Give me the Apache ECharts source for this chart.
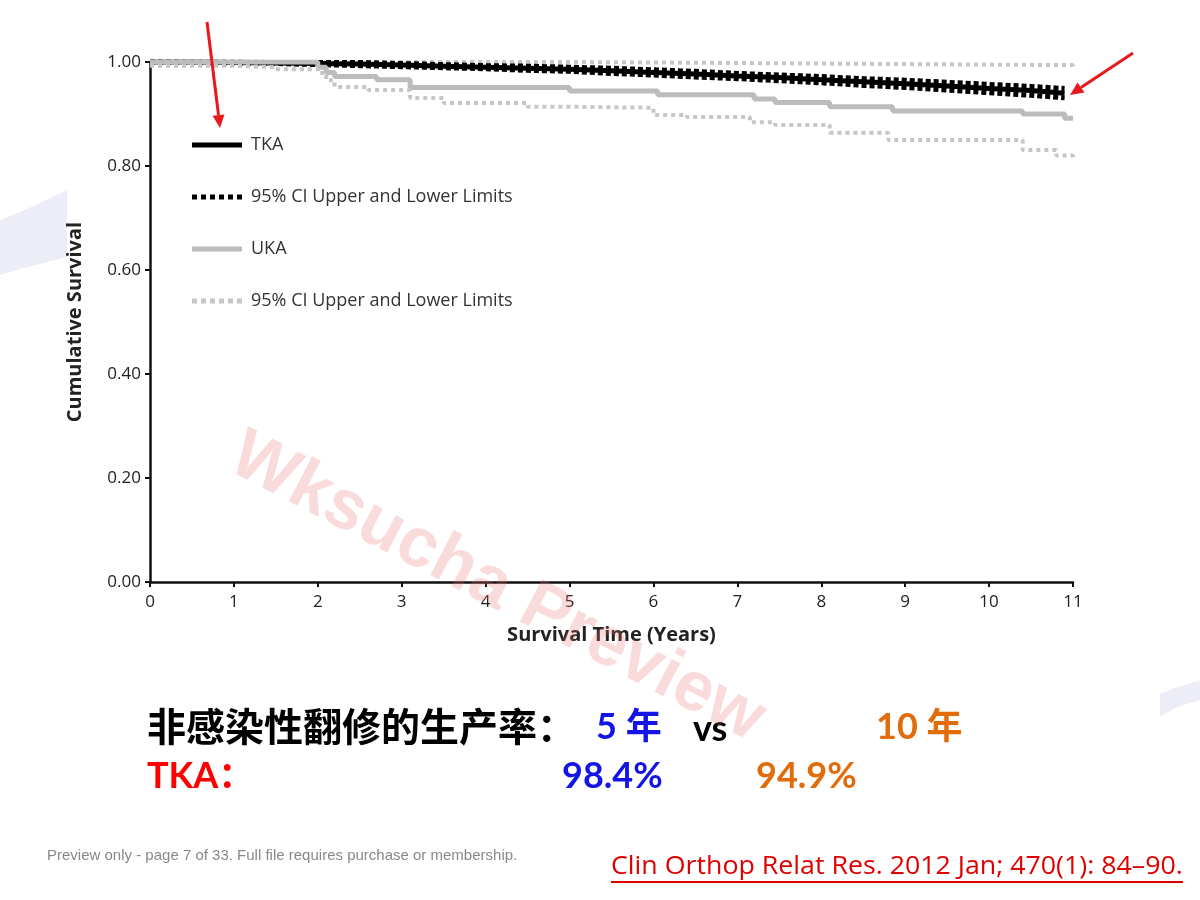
<!DOCTYPE html>
<html>
<head>
<meta charset="utf-8">
<script src="https://cdn.jsdelivr.net/npm/echarts@6/dist/echarts.min.js"></script>
<style>
html,body{margin:0;padding:0;background:#fff;}
#chart{width:1200px;height:900px;}
</style>
</head>
<body>
<div id="chart"></div>
<script>
// ---- data ----
var xTicks = [0,1,2,3,4,5,6,7,8,9,10,11];
var yTicks = [0,0.2,0.4,0.6,0.8,1.0];

var tkaTimes = [0,0.5,1,1.5,2,2.5,3,3.5,4,4.5,5,5.5,6,6.5,7,7.5,8,8.5,9,9.5,10,10.5,10.9];
var tkaSurv  = [1.000,1.000,0.999,0.998,0.997,0.996,0.994,0.992,0.990,0.988,0.986,0.983,0.980,0.977,0.973,0.970,0.966,0.962,0.958,0.954,0.949,0.945,0.940];
var tkaUpper = [1.000,1.000,1.000,0.999,0.999,0.999,0.997,0.995,0.993,0.992,0.990,0.988,0.985,0.982,0.978,0.975,0.972,0.968,0.965,0.961,0.957,0.953,0.949];
var tkaLower = [1.000,0.999,0.998,0.997,0.995,0.993,0.991,0.989,0.987,0.984,0.982,0.978,0.975,0.971,0.968,0.964,0.960,0.955,0.951,0.946,0.941,0.936,0.931];

var ukaTimes = [0,2.0,2.1,2.2,2.7,3.1,5.0,6.05,7.2,7.45,8.1,8.85,10.4,10.9,11.0];
var ukaSurv  = [1.000,0.990,0.980,0.972,0.966,0.951,0.944,0.937,0.929,0.922,0.914,0.906,0.900,0.892,0.892];

var ukaLowTimes = [0,1.0,1.5,2.0,2.1,2.2,2.6,3.1,3.5,4.5,5.0,6.0,6.4,7.15,7.45,8.1,8.8,10.4,10.8,11.0];
var ukaLow      = [0.993,0.990,0.986,0.979,0.965,0.952,0.946,0.931,0.921,0.914,0.912,0.898,0.894,0.884,0.879,0.864,0.850,0.831,0.820,0.815];

var ukaUpTimes = [0,5.0,7.0,9.0,11.0];
var ukaUp      = [1.000,0.998,0.996,0.994,0.992];

var legendNames = ['TKA','95% CI Upper and Lower Limits','UKA','95% CI Upper and Lower Limits'];

function pairs(xs, ys){ return xs.map(function(x,i){ return [x, ys[i]]; }); }

var chart = echarts.init(document.getElementById('chart'), null, {renderer:'canvas'});

var legendMap = {'TKA':legendNames[0],'TKA CI':legendNames[1],'UKA':legendNames[2],'UKA CI':legendNames[3]};
var dotsIcon = 'path://M0,0h5v5h-5zM9,0h5v5h-5zM18,0h5v5h-5zM27,0h5v5h-5zM36,0h5v5h-5zM45,0h5v5h-5z';

var BLACK = '#000000', GRAY = '#bcbcbc', GRAYDOT = '#c6c6c6';

var option = {
  backgroundColor:'#ffffff',
  animation:false,
  grid:{left:150, right:127, top:62, bottom:318, containLabel:false},
  legend:{
    orient:'vertical', left:187, top:131,
    itemWidth:50, itemHeight:5, itemGap:34,
    itemStyle:{borderWidth:0},
    data:[
      {name:'TKA', icon:'rect'},
      {name:'TKA CI', icon:dotsIcon},
      {name:'UKA', icon:'rect'},
      {name:'UKA CI', icon:dotsIcon}
    ],
    formatter:function(n){ return legendMap[n]; },
    textStyle:{fontFamily:'Open Sans', fontSize:18, color:'#333', padding:[0,0,0,4]}
  },
  xAxis:{
    type:'value', min:0, max:11, interval:1,
    name:'Survival Time (Years)', nameLocation:'middle', nameGap:43,
    nameTextStyle:{fontFamily:'Open Sans', fontWeight:'bold', fontSize:20, color:'#222'},
    axisLine:{lineStyle:{color:'#111', width:2.5}},
    axisTick:{show:true, length:5, lineStyle:{color:'#111', width:2}},
    axisLabel:{fontFamily:'Open Sans', fontSize:17, color:'#222', margin:12},
    splitLine:{show:false}
  },
  yAxis:{
    type:'value', min:0, max:1, interval:0.2,
    name:'Cumulative Survival', nameLocation:'middle', nameGap:65,
    nameTextStyle:{fontFamily:'Open Sans', fontWeight:'bold', fontSize:20, color:'#222'},
    axisLine:{show:true, lineStyle:{color:'#111', width:2.5}},
    axisTick:{show:true, length:5, lineStyle:{color:'#111', width:2}},
    axisLabel:{fontFamily:'Open Sans', fontSize:17, color:'#222', margin:9,
      formatter:function(v){ return v.toFixed(2); }},
    splitLine:{show:false}
  },
  series:[
    {name:'TKA CI', type:'line', symbol:'none', z:2, itemStyle:{color:BLACK},
      data:pairs(tkaTimes, tkaUpper), lineStyle:{color:BLACK, width:5, type:[5,3]}},
    {name:'TKA CI', type:'line', symbol:'none', z:2, itemStyle:{color:BLACK},
      data:pairs(tkaTimes, tkaLower), lineStyle:{color:BLACK, width:5, type:[5,3]}},
    {name:'TKA', type:'line', symbol:'none', z:3, itemStyle:{color:BLACK},
      data:pairs(tkaTimes, tkaSurv), lineStyle:{color:BLACK, width:5}},
    {name:'UKA', type:'line', symbol:'none', step:'end', z:4, itemStyle:{color:GRAY},
      data:pairs(ukaTimes, ukaSurv), lineStyle:{color:GRAY, width:5}},
    {name:'UKA CI', type:'line', symbol:'none', step:'end', z:4, itemStyle:{color:GRAYDOT},
      data:pairs(ukaLowTimes, ukaLow), lineStyle:{color:GRAYDOT, width:4, type:[4,4]}},
    {name:'UKA CI', type:'line', symbol:'none', step:'end', z:1, itemStyle:{color:GRAYDOT},
      data:pairs(ukaUpTimes, ukaUp), lineStyle:{color:GRAYDOT, width:4, type:[4,4]}}
  ],
  graphic:[
    // decorative swooshes
    {type:'polygon', z:-10, shape:{points:[[0,220],[20,212],[40,203],[67,190],[67,257],[40,264],[20,269],[0,275]]}, style:{fill:'#ededf8'}},
    {type:'polygon', z:-10, shape:{points:[[1160,716],[1160,694],[1175,688],[1200,680],[1200,700],[1180,706]]}, style:{fill:'#ededf8'}},
    // red arrows
    {type:'line', z:50, shape:{x1:207,y1:22,x2:218.5,y2:115}, style:{stroke:'#e8191a', lineWidth:3}},
    {type:'polygon', z:50, shape:{points:[[220,128],[224.5,114.5],[212.5,115.7]]}, style:{fill:'#e8191a'}},
    {type:'line', z:50, shape:{x1:1133,y1:53,x2:1081,y2:87.4}, style:{stroke:'#e8191a', lineWidth:3}},
    {type:'polygon', z:50, shape:{points:[[1070,95],[1084.5,92.5],[1077.5,82.5]]}, style:{fill:'#e8191a'}},
    // bottom texts
    {type:'text', z:40, x:147, y:726, style:{text:'非感染性翻修的生产率：', fill:'#000', font:'bold 39px "Noto Sans CJK SC"', verticalAlign:'middle'}},
    {type:'text', z:40, x:596, y:727, style:{text:'5 年', fill:'#1414e6', font:'bold 36px Lato, "Noto Sans CJK SC"', verticalAlign:'middle'}},
    {type:'text', z:40, x:693, y:729, style:{text:'vs', fill:'#000', font:'bold 36px Lato', verticalAlign:'middle'}},
    {type:'text', z:40, x:876, y:727, style:{text:'10 年', fill:'#e26b0a', font:'bold 36px Lato, "Noto Sans CJK SC"', verticalAlign:'middle'}},
    {type:'text', z:40, x:147, y:776, style:{text:'TKA：', fill:'#ff0000', font:'bold 36px Lato, "Noto Sans CJK SC"', verticalAlign:'middle'}},
    {type:'text', z:40, x:562, y:776, style:{text:'98.4%', fill:'#1414e6', font:'bold 36px Lato', verticalAlign:'middle'}},
    {type:'text', z:40, x:756, y:776, style:{text:'94.9%', fill:'#e26b0a', font:'bold 36px Lato', verticalAlign:'middle'}},
    {type:'text', z:40, x:47, y:856, style:{text:'Preview only - page 7 of 33. Full file requires purchase or membership.', fill:'#888', font:'15px "Liberation Sans"', verticalAlign:'middle'}},
    {type:'text', z:40, x:611, y:867, scaleX:1.07, style:{text:'Clin Orthop Relat Res. 2012 Jan; 470(1): 84–90.', fill:'#e00000', font:'25px "Open Sans"', verticalAlign:'middle'}},
    {type:'line', z:40, shape:{x1:611,y1:882,x2:1183,y2:882}, style:{stroke:'#e00000', lineWidth:2}},
    // watermark
    {type:'text', z:60, x:497, y:588, rotation:-0.48, style:{text:'Wksucha Preview', fill:'rgba(235,110,110,0.25)', font:'bold 70px "Liberation Sans"', align:'center', verticalAlign:'middle'}}
  ]
};
chart.setOption(option);
</script>
</body>
</html>
